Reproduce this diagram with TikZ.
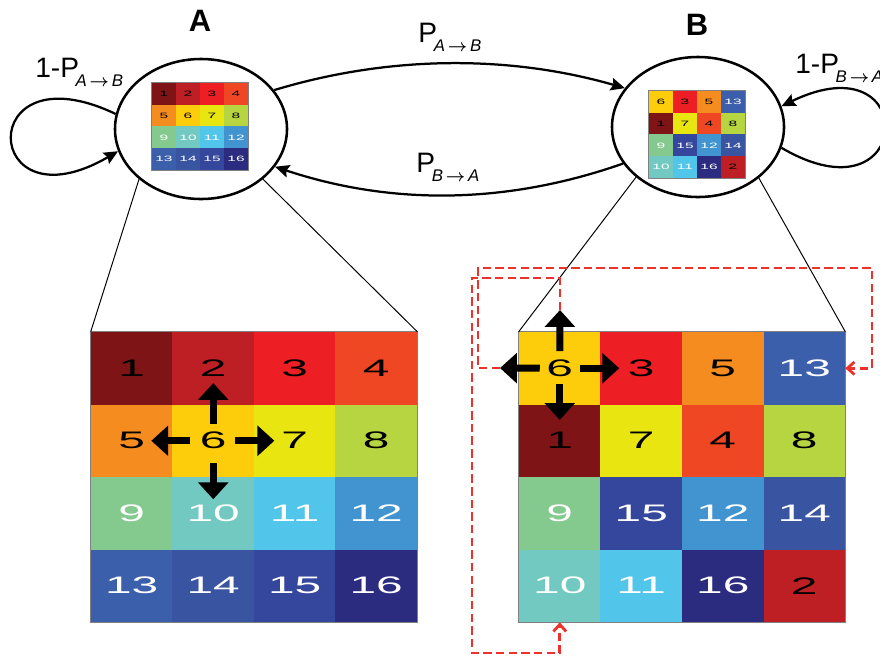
\documentclass[tikz,border=0pt]{standalone}
\usepackage{fontspec}
\setmainfont{Liberation Sans}
\newfontfamily\cellfont[FakeStretch=2]{Liberation Sans}
\usetikzlibrary{shapes.geometric, arrows.meta, positioning}

\definecolor{c1}{HTML}{7E1416}
\definecolor{c2}{HTML}{BD1F24}
\definecolor{c3}{HTML}{ED1F24}
\definecolor{c4}{HTML}{EF4723}
\definecolor{c5}{HTML}{F48C1F}
\definecolor{c6}{HTML}{FDCD0B}
\definecolor{c7}{HTML}{E8E511}
\definecolor{c8}{HTML}{B7D540}
\definecolor{c9}{HTML}{84C98D}
\definecolor{c10}{HTML}{72C9C1}
\definecolor{c11}{HTML}{52C5EA}
\definecolor{c12}{HTML}{4194D0}
\definecolor{c13}{HTML}{3C5FAB}
\definecolor{c14}{HTML}{3954A1}
\definecolor{c15}{HTML}{35479D}
\definecolor{c16}{HTML}{2B2B80}
\definecolor{tred}{RGB}{236,50,43}

\tikzset{
  >={Stealth[length=10pt, width=9pt, inset=1.5pt]}, % filled heads for the transitions
  state/.style={ellipse, draw, line width=1.8pt, minimum width=4.3cm, minimum height=3.5cm}, % the two states
  title/.style={font=\bfseries\fontsize{22}{22}\selectfont}, % state names
  prob/.style={font=\fontsize{20}{20}\selectfont, inner sep=4pt}, % transition labels
  flow/.style={->, line width=1.6pt}, % transitions
  bigcell/.style={rectangle, inner sep=0pt, minimum width=2.0375cm, minimum height=1.8125cm, font=\cellfont\fontsize{17}{17}\selectfont},
  minicell/.style={rectangle, inner sep=0pt, minimum width=0.6cm, minimum height=0.544cm, font=\cellfont\fontsize{5.5}{5.5}\selectfont},
  frame/.style={draw=gray, line width=0.6pt}, % border of a grid
  zoomline/.style={line width=0.7pt}, % from a state to its big grid
  move/.style={line width=5pt, -{Triangle[length=12pt, width=21pt]}}, % block arrows in the grid
  teleport/.style={draw=tred, line width=2pt, dash pattern=on 6pt off 3pt, -{Straight Barb[length=5pt, width=9pt]}}, % wrap around moves
}

% #1 name, #2 left, #3 top, #4 cell width, #5 cell height, #6 style, #7 numbers row by row
\newcommand{\cellgrid}[7]{%
  \foreach \n [count=\i from 0] in {#7} {
    \pgfmathtruncatemacro{\col}{mod(\i,4)}
    \pgfmathtruncatemacro{\row}{div(\i,4)}
    \ifnum\n<9 \def\ink{black}\else\def\ink{white}\fi
    \node[#6, fill=c\n, text=\ink] (#1\n) at ({#2+(\col+0.5)*#4}, {#3+(\row+0.5)*#5}) {\n};
  }
}
\newcommand{\probsub}[2]{\kern-0.12em\raisebox{-6.5pt}{\fontsize{12}{12}\selectfont\itshape #1\,{\boldmath$\rightarrow$}\,#2}}

\begin{document}
\begin{tikzpicture}[x=0.025cm, y=-0.025cm]
    \useasboundingbox (0,0) rectangle (880,660);
    \clip (0,0) rectangle (880,660);

    \node[state] (stateA) at (201,129) {};
    \node[state] (stateB) at (698,127) {};
    \node[title] (nameA) at (200,21) {A};
    \node[title] (nameB) at (697,25) {B};

    % small grids in the states
    \cellgrid{a}{152}{83}{24}{21.75}{minicell}{1,...,16}
    \cellgrid{b}{649}{91}{24}{21.75}{minicell}{6,3,5,13,1,7,4,8,9,15,12,14,10,11,16,2}
    \draw[frame] (a1.north west) rectangle (a16.south east);
    \draw[frame] (b6.north west) rectangle (b2.south east);

    % big grids
    \cellgrid{A}{91}{332}{81.5}{72.5}{bigcell}{1,...,16}
    \cellgrid{B}{519}{332}{81.5}{72.5}{bigcell}{6,3,5,13,1,7,4,8,9,15,12,14,10,11,16,2}
    \draw[frame] (A1.north west) rectangle (A16.south east);
    \draw[frame] (B6.north west) rectangle (B2.south east);

    \draw[zoomline] (stateA.219) -- (A1.north west)
                    (stateA.321) -- (A4.north east)
                    (stateB.219) -- (B6.north west)
                    (stateB.320) -- (B13.north east);

    % transitions
    \draw[flow] (stateA.28) .. controls (390,55) and (510,55) .. (stateB.152)
        node[prob, pos=0.5, above=4pt] (pAB) {P\probsub{A}{B}};
    \draw[flow] (stateB.206) .. controls (505,205) and (390,205) .. (stateA.333)
        node[prob, pos=0.5, above=5pt] (pBA) {P\probsub{B}{A}};
    \draw[flow] (stateA.170) .. controls (-27,46) and (-19,231) .. (stateA.195);
    \draw[flow] (stateB.346) .. controls (915,226) and (922,38) .. (stateB.14);
    \node[prob, anchor=base west, inner sep=0pt] (stayA) at (35,77) {1-P\probsub{A}{B}};
    \node[prob, anchor=base west, inner sep=0pt] (stayB) at (795,73) {1-P\probsub{B}{A}};

    % moves of tile 6
    \draw[move, shorten <=0.43cm, shorten >=0.37cm] (A6.center) -- (A2.center);
    \draw[move, shorten <=0.57cm, shorten >=0.49cm] (A6.center) -- (A5.center);
    \draw[move, shorten <=0.55cm, shorten >=0.51cm] (A6.center) -- (A7.center);
    \draw[move, shorten <=0.55cm, shorten >=0.35cm] (A6.center) -- (A10.center);

    \coordinate (upB) at (560,310);
    \coordinate (leftB) at (500,368);
    \draw[move, shorten <=0.43cm] (B6.center) -- (upB);
    \draw[move, shorten <=0.5cm] (B6.center) -- (leftB);
    \draw[move, shorten <=0.5cm, shorten >=0.55cm] (B6.center) -- (B3.center);
    \draw[move, shorten <=0.4cm, shorten >=0.52cm] (B6.center) -- (B1.center);

    \draw[teleport] (upB) -- ++(0,-32) -| (472,653) -| (B10.south);
    \draw[teleport] (leftB) -- ++(-22,0) |- (872,268) |- (B13.east);
\end{tikzpicture}
\end{document}
